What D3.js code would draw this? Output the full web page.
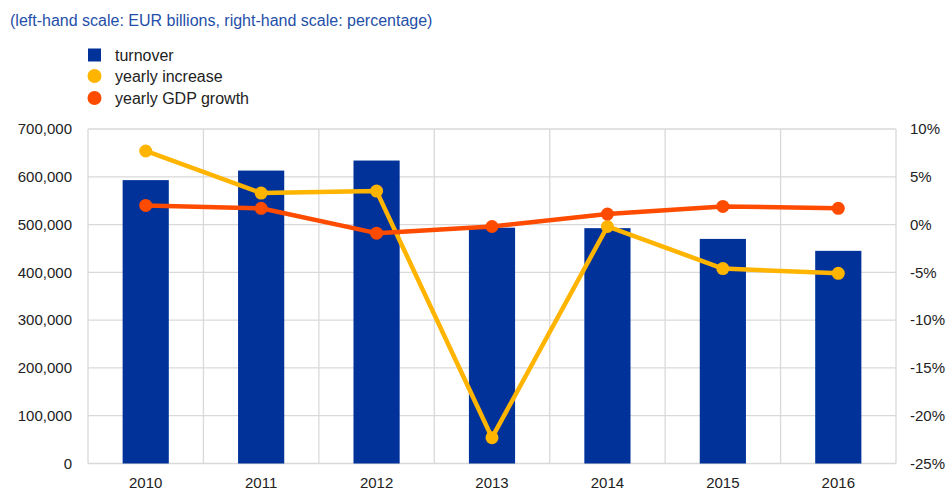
<!DOCTYPE html>
<html><head><meta charset="utf-8">
<script src="https://cdn.jsdelivr.net/npm/d3@7"></script>
<style>body{margin:0;background:#fff;} svg{display:block;font-family:"Liberation Sans",Arial,sans-serif;}</style>
</head><body><svg id="c" width="947" height="504"></svg>
<script>
const years = ["2010","2011","2012","2013","2014","2015","2016"];
const turnover = [593000, 613000, 634000, 493500, 492500, 470000, 445000];
const yearlyIncrease = [7.7, 3.3, 3.5, -22.3, -0.2, -4.6, -5.1];
const gdpGrowth = [2.0, 1.7, -0.9, -0.2, 1.1, 1.9, 1.7];
const leftTicks = [0,100000,200000,300000,400000,500000,600000,700000];
const rightTicks = [-25,-20,-15,-10,-5,0,5,10];
const legendLabels = ["turnover","yearly increase","yearly GDP growth"];
const colors = {bar:"#003299", inc:"#ffb400", gdp:"#ff4b00", grid:"#d9d9d9", text:"#222", title:"#1f4fa8"};

const svg = d3.select("#c");
const m = {l:88, r:896, t:129, b:463.5};
const x = d3.scaleBand().domain(years).range([m.l,m.r]).paddingInner(0).paddingOuter(0);
const yL = d3.scaleLinear().domain([0,700000]).range([m.b,m.t]);
const yR = d3.scaleLinear().domain([-25,10]).range([m.b,m.t]);

svg.append("text").attr("x",10).attr("y",26).attr("fill",colors.title)
  .style("font-size","16px").text("(left-hand scale: EUR billions, right-hand scale: percentage)");

// gridlines
const g = svg.append("g");
g.selectAll("line.h").data(leftTicks).join("line")
  .attr("x1",m.l).attr("x2",m.r).attr("y1",d=>yL(d)).attr("y2",d=>yL(d))
  .attr("stroke",colors.grid).attr("stroke-width",1.3);
const vb = years.map(d=>x(d)).concat([m.r]);
g.selectAll("line.v").data(vb).join("line")
  .attr("x1",d=>d).attr("x2",d=>d).attr("y1",m.t).attr("y2",m.b)
  .attr("stroke",colors.grid).attr("stroke-width",1.3);

// bars
const bw = x.bandwidth()*0.4;
svg.append("g").selectAll("rect").data(years).join("rect")
  .attr("x",(d)=>x(d)+x.bandwidth()/2-bw/2).attr("width",bw)
  .attr("y",(d,i)=>yL(turnover[i])).attr("height",(d,i)=>m.b-yL(turnover[i]))
  .attr("fill",colors.bar);

// lines
const cx = d=>x(d)+x.bandwidth()/2;
function series(vals,col){
  const line = d3.line().x((d,i)=>cx(years[i])).y(d=>yR(d));
  svg.append("path").datum(vals).attr("d",line).attr("fill","none")
    .attr("stroke",col).attr("stroke-width",4.5).attr("stroke-linejoin","round");
  svg.append("g").selectAll("circle").data(vals).join("circle")
    .attr("cx",(d,i)=>cx(years[i])).attr("cy",d=>yR(d)).attr("r",6.5).attr("fill",col);
}
series(yearlyIncrease, colors.inc);
series(gdpGrowth, colors.gdp);

// axes
const axL = d3.axisLeft(yL).tickValues(leftTicks).tickFormat(d3.format(",")).tickSize(0).tickPadding(16);
const gl = svg.append("g").attr("transform",`translate(${m.l},0)`).call(axL);
const axR = d3.axisRight(yR).tickValues(rightTicks).tickFormat(d=>d+"%").tickSize(0).tickPadding(14);
const gr = svg.append("g").attr("transform",`translate(${m.r},0)`).call(axR);
const axB = d3.axisBottom(x).tickSize(0).tickPadding(14);
const gb = svg.append("g").attr("transform",`translate(0,${m.b})`).call(axB);
[gl,gr,gb].forEach(a=>{a.select(".domain").remove();
  a.selectAll("text").attr("fill",colors.text).style("font-size","15px").style("font-family","'Liberation Sans',Arial,sans-serif");});

// legend
const lg = svg.append("g");
const ly = [55,76,98];
lg.append("rect").attr("x",88).attr("y",ly[0]-6.5).attr("width",13).attr("height",13).attr("fill",colors.bar);
lg.append("circle").attr("cx",94.5).attr("cy",ly[1]).attr("r",7).attr("fill",colors.inc);
lg.append("circle").attr("cx",94.5).attr("cy",ly[2]).attr("r",7).attr("fill",colors.gdp);
lg.selectAll("text").data(legendLabels).join("text")
  .attr("x",115).attr("y",(d,i)=>ly[i]+5.5).attr("fill",colors.text).style("font-size","16px").text(d=>d);
</script></body></html>
